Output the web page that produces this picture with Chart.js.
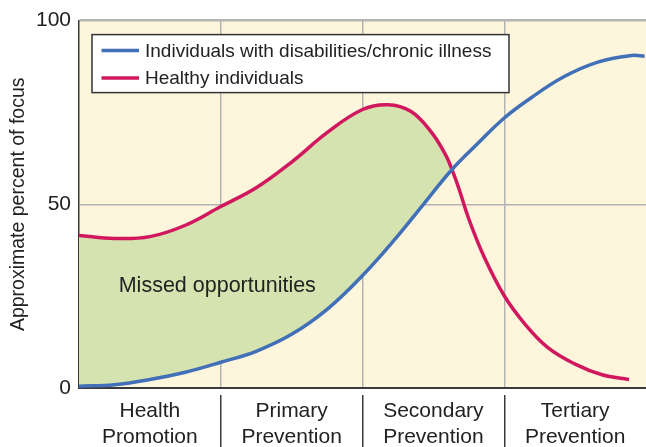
<!DOCTYPE html>
<html>
<head>
<meta charset="utf-8">
<script src="https://cdn.jsdelivr.net/npm/chart.js@4.4.0/dist/chart.umd.min.js"></script>
<style>
  html, body { margin: 0; padding: 0; background: #fff; }
  #wrap { width: 646px; height: 447px; position: relative; }
</style>
</head>
<body>
<div id="wrap"><canvas id="focusChart"></canvas></div>
<script>
// stages of care (x categories) and y ticks
var stageLabels = [["Health", "Promotion"], ["Primary", "Prevention"], ["Secondary", "Prevention"], ["Tertiary", "Prevention"]];
var yTicks = [0, 50, 100];

// Individuals with disabilities/chronic illness (x = position across the 4 stages)
var chronicX = [0, 0.25, 0.5, 0.75, 1.0, 1.25, 1.5, 1.75, 2.0, 2.24, 2.43, 2.63, 2.82, 3.0, 3.19, 3.42, 3.66, 3.9, 3.99];
var chronicY = [0.5, 0.9, 2.3, 4.3, 7.0, 10.0, 14.6, 21.4, 30.6, 41, 50, 59.4, 66.8, 73.5, 79, 84.7, 88.7, 90.5, 90.3];

// Healthy individuals
var healthyX = [0, 0.25, 0.5, 0.75, 1.0, 1.25, 1.5, 1.75, 2.0, 2.18, 2.34, 2.48, 2.58, 2.63, 2.68, 2.75, 2.86, 3.0, 3.15, 3.31, 3.5, 3.69, 3.88];
var healthyY = [41.5, 40.7, 41.2, 44.3, 49.4, 54.5, 61.5, 69.5, 75.8, 77.1, 75.3, 69.9, 63.9, 59.6, 54.3, 46, 35.5, 25.1, 17.2, 10.9, 6.5, 3.6, 2.3];

var seriesNames = ["Individuals with disabilities/chronic illness", "Healthy individuals"];
var gapLabel = "Missed opportunities";
var gapLabelAt = { x: 0.28, y: 26 };

var blue = "#4270b8";
var red = "#d1185f";
var green = "#d5e3b0";
var paper = "#fdf5dc";
var gridGray = "#b4b4b4";
var ink = "#222222";

Chart.defaults.font.family = "'Liberation Sans', Arial, sans-serif";

function toPoints(xs, ys) {
    var pts = [];
    for (var i = 0; i < xs.length; i++) {
        pts.push({ x: xs[i], y: ys[i] });
    }
    return pts;
}

var plotBackground = {
    id: 'plotBackground',
    beforeDraw: function(chart) {
        var a = chart.chartArea;
        var c = chart.ctx;
        c.save();
        c.fillStyle = paper;
        c.fillRect(a.left, a.top, a.right - a.left, a.bottom - a.top);
        c.restore();
    }
};

var gapText = {
    id: 'gapText',
    afterDatasetsDraw: function(chart) {
        var c = chart.ctx;
        var px = chart.scales.x.getPixelForValue(gapLabelAt.x);
        var py = chart.scales.y.getPixelForValue(gapLabelAt.y);
        c.save();
        c.font = "21.5px 'Liberation Sans', Arial, sans-serif";
        c.fillStyle = ink;
        c.textAlign = 'left';
        c.textBaseline = 'alphabetic';
        c.fillText(gapLabel, px, py);
        c.restore();
    }
};

// boxed legend sitting inside the plot, top left
var boxLegend = {
    id: 'boxLegend',
    afterDraw: function(chart) {
        var c = chart.ctx;
        var a = chart.chartArea;
        var left = a.left + 13, top = a.top + 14;
        var w = 417, h = 58;
        c.save();
        c.fillStyle = '#ffffff';
        c.fillRect(left, top, w, h);
        c.strokeStyle = '#333333';
        c.lineWidth = 1.5;
        c.strokeRect(left, top, w, h);
        c.font = "19px 'Liberation Sans', Arial, sans-serif";
        c.textBaseline = 'middle';
        c.textAlign = 'left';
        chart.data.datasets.forEach(function(ds, i) {
            var yy = top + 16 + i * 27.5;
            c.strokeStyle = ds.borderColor;
            c.lineWidth = 3.5;
            c.beginPath();
            c.moveTo(left + 9.5, yy);
            c.lineTo(left + 47, yy);
            c.stroke();
            c.fillStyle = ink;
            c.fillText(ds.label, left + 53, yy + 1);
        });
        c.restore();
    }
};

var ctx = document.getElementById('focusChart').getContext('2d');

var focusChart = new Chart(ctx, {
    type: 'line',
    data: {
        datasets: [{
            label: seriesNames[0],
            data: toPoints(chronicX, chronicY),
            borderColor: blue,
            borderWidth: 3.5,
            pointRadius: 0,
            tension: 0.4,
            fill: false
        }, {
            label: seriesNames[1],
            data: toPoints(healthyX, healthyY),
            borderColor: red,
            borderWidth: 3.5,
            pointRadius: 0,
            tension: 0.4,
            fill: { target: 0, above: green, below: 'rgba(0,0,0,0)' }
        }]
    },
    options: {
        responsive: true,
        maintainAspectRatio: false,
        animation: false,
        layout: { padding: { top: 14, right: 0, bottom: 0, left: 0 } },
        plugins: {
            legend: { display: false },
            tooltip: { enabled: false }
        },
        scales: {
            x: {
                type: 'linear',
                position: 'bottom',
                min: 0,
                max: 4,
                ticks: { display: false, stepSize: 1 },
                grid: {
                    drawTicks: false,
                    lineWidth: 1.5,
                    color: function(c) {
                        return (c.tick && c.tick.value > 0 && c.tick.value < 4) ? gridGray : 'rgba(0,0,0,0)';
                    }
                },
                border: { color: '#3a3a3a', width: 2 },
                afterFit: function(s) { s.height = 7; }
            },
            stage: {
                type: 'category',
                position: 'bottom',
                labels: stageLabels,
                offset: true,
                grid: {
                    offset: true,
                    drawOnChartArea: false,
                    drawTicks: true,
                    tickLength: 52,
                    lineWidth: 1.5,
                    color: function(c) {
                        return (c.index > 0 && c.index < stageLabels.length) ? '#3a3a3a' : 'rgba(0,0,0,0)';
                    }
                },
                border: { display: false },
                ticks: {
                    font: { size: 21 },
                    color: ink,
                    padding: -48,
                    maxRotation: 0,
                    autoSkip: false
                },
                afterFit: function(s) { s.height = 52; }
            },
            y: {
                min: 0,
                max: 100,
                afterBuildTicks: function(s) {
                    s.ticks = yTicks.map(function(v) { return { value: v }; });
                },
                ticks: { font: { size: 21 }, color: ink, padding: 8 },
                grid: {
                    drawTicks: false,
                    color: function(c) {
                        return (c.tick && c.tick.value === 0) ? 'rgba(0,0,0,0)' : gridGray;
                    },
                    lineWidth: function(c) {
                        return (c.tick && c.tick.value === 100) ? 2.5 : 1.5;
                    }
                },
                border: { color: '#3a3a3a', width: 1.5 },
                title: {
                    display: true,
                    text: 'Approximate percent of focus',
                    font: { size: 19.5 },
                    color: ink,
                    padding: { top: 7, bottom: 0 }
                },
                afterFit: function(s) { s.width = 79; }
            }
        }
    },
    plugins: [plotBackground, gapText, boxLegend]
});
</script>
</body>
</html>
